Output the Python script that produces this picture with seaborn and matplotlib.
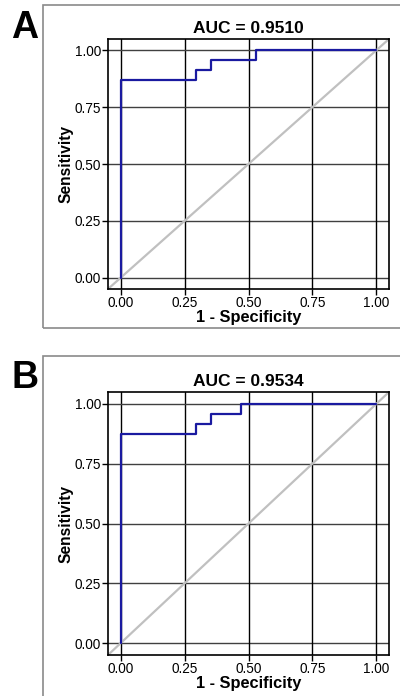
import numpy as np
import pandas as pd
import matplotlib
matplotlib.use("Agg")
import matplotlib.pyplot as plt
from matplotlib.patches import Rectangle
import seaborn as sns

# ROC data
fpr_a = [0.0, 0.0, 0.294, 0.294, 0.353, 0.353, 0.529, 0.529, 1.0]
tpr_a = [0.0, 0.870, 0.870, 0.913, 0.913, 0.957, 0.957, 1.0, 1.0]
fpr_b = [0.0, 0.0, 0.294, 0.294, 0.353, 0.353, 0.471, 0.471, 1.0]
tpr_b = [0.0, 0.875, 0.875, 0.917, 0.917, 0.958, 0.958, 1.0, 1.0]
titles = ["AUC = 0.9510", "AUC = 0.9534"]
panel_labels = ["A", "B"]
ticks = [0.0, 0.25, 0.5, 0.75, 1.0]
tick_labels = ["0.00", "0.25", "0.50", "0.75", "1.00"]

sns.set_theme(style="white")
plt.rcParams["font.family"] = ["Liberation Sans", "DejaVu Sans"]

W, H = 400, 696
fig = plt.figure(figsize=(W / 100, H / 100), dpi=100)

def px_axes(left, top, right, bottom):
    return fig.add_axes([left / W, 1 - bottom / H, (right - left) / W, (bottom - top) / H])

# panel frames
fig.patches.append(Rectangle((43 / W, 1 - 328 / H), 400 / W, 323 / H, transform=fig.transFigure,
                             fill=False, edgecolor="#8a8a8a", lw=1.2))
fig.patches.append(Rectangle((43 / W, 1 - 720 / H), 400 / W, 364 / H, transform=fig.transFigure,
                             fill=False, edgecolor="#8a8a8a", lw=1.2))

axes_px = [(108, 39, 389, 289), (108, 392, 389, 655)]
data = [(fpr_a, tpr_a), (fpr_b, tpr_b)]
label_y = [28, 378]

for i in range(2):
    ax = px_axes(*axes_px[i])
    fpr, tpr = data[i]
    df = pd.DataFrame({"fpr": fpr, "tpr": tpr})
    lim = (-0.05, 1.05)
    ax.set_xlim(lim)
    ax.set_ylim(lim)
    for t in ticks:
        ax.axvline(t, color="black", lw=1.0, zorder=1)
        ax.axhline(t, color="#404040", lw=1.0, zorder=1)
    sns.lineplot(x=[lim[0], lim[1]], y=[lim[0], lim[1]], ax=ax, color="#c0c0c0", lw=1.6, zorder=2)
    sns.lineplot(data=df, x="fpr", y="tpr", ax=ax, color="#1a1aa0", lw=1.6, zorder=3,
                 sort=False, estimator=None)
    ax.set_xticks(ticks)
    ax.set_yticks(ticks)
    ax.set_xticklabels(tick_labels)
    ax.set_yticklabels(tick_labels)
    ax.tick_params(axis="both", direction="out", length=4, width=1, color="black",
                   labelsize=9.8, labelcolor="black", pad=1, bottom=True, left=True)
    for s in ax.spines.values():
        s.set_color("black")
        s.set_linewidth(1.2)
    ax.set_xlabel("1 - Specificity", fontsize=11.8, fontweight="bold", labelpad=0, color="black")
    ax.set_ylabel("Sensitivity", fontsize=11.2, fontweight="bold", labelpad=1, color="black")
    ax.set_title(titles[i], fontsize=12.5, fontweight="bold", pad=4, color="black")
    fig.text(25 / W, 1 - label_y[i] / H, panel_labels[i], fontsize=27, fontweight="bold",
             ha="center", va="center", color="black")

fig.savefig("out.png", dpi=100)
